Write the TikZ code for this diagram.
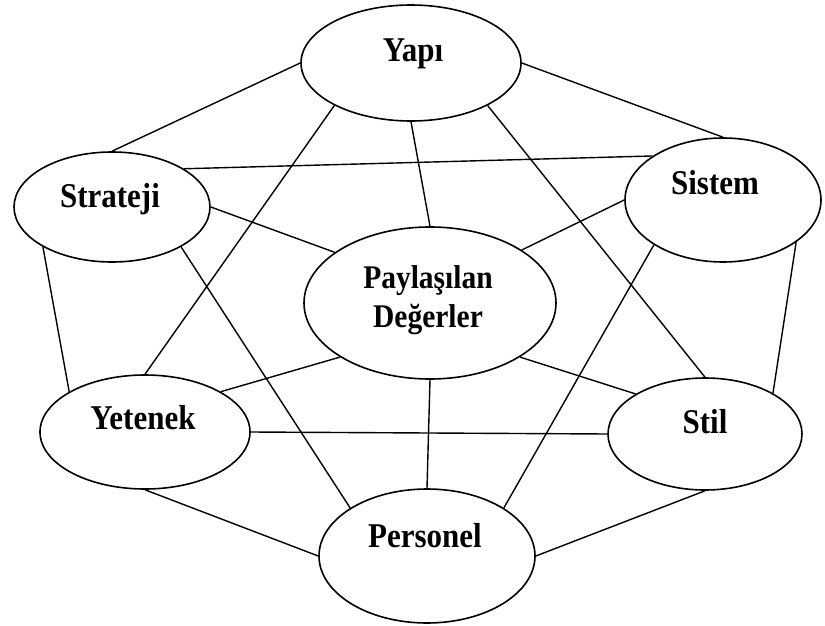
\documentclass[tikz,border=0pt]{standalone}
\usepackage{fontspec}
\setmainfont{Liberation Serif}
\usepackage{graphicx}
\usepackage{tikz}
\usetikzlibrary{shapes.geometric}

% slightly tall letters, as in the scanned figure
\newcommand{\tallword}[1]{\scalebox{1}[1.12]{#1}}

\begin{document}
\begin{tikzpicture}[x=1pt, y=-1pt,
    oval/.style={draw, ellipse, line width=1.6pt, fill=white, inner sep=0pt},
    word/.style={anchor=base, font=\fontsize{31}{37}\selectfont\bfseries},
    link/.style={line width=1.4pt}]
  \useasboundingbox (0,0) rectangle (825,626);

  % Ellipses
  \node[oval, minimum width=220pt, minimum height=116pt] (yapi) at (411,63) {};
  \node[oval, minimum width=196pt, minimum height=110pt] (strateji) at (112,207) {};
  \node[oval, minimum width=196pt, minimum height=124pt] (sistem) at (723,200) {};
  \node[oval, minimum width=252pt, minimum height=152pt] (paylasilan) at (430,303) {};
  \node[oval, minimum width=210pt, minimum height=114pt] (yetenek) at (145,432) {};
  \node[oval, minimum width=194pt, minimum height=112pt] (stil) at (705,434) {};
  \node[oval, minimum width=216pt, minimum height=134pt] (personel) at (427,556) {};

  % Labels
  \node[word] (yapi-t) at (413,62) {\tallword{Yapı}};
  \node[word] (strateji-t) at (110,207) {\tallword{Strateji}};
  \node[word] (sistem-t) at (715,194) {\tallword{Sistem}};
  \node[word, font=\fontsize{29.5}{39}\selectfont\bfseries, align=center] (paylasilan-t) at (428,327)
    {\tallword{Paylaşılan}\\\tallword{Değerler}};
  \node[word] (yetenek-t) at (143,429) {\tallword{Yetenek}};
  \node[word] (stil-t) at (705,433) {\tallword{Stil}};
  \node[word] (personel-t) at (425,547) {\tallword{Personel}};

  % Links
  \draw[link] (yapi.west) -- (strateji.north);
  \draw[link] (yapi.east) -- (sistem.north);
  \draw[link] (yapi.south) -- (paylasilan.north);
  \draw[link] (yapi.209) -- (yetenek.north);
  \draw[link] (yapi.331) -- (stil.north);
  \draw[link] (strateji.28) -- (sistem.148);
  \draw[link] (strateji.east) -- (paylasilan.152);
  \draw[link] (strateji.210) -- (yetenek.152);
  \draw[link] (strateji.330) -- (personel.148);
  \draw[link] (sistem.west) -- (paylasilan.30);
  \draw[link] (sistem.330) -- (stil.31);
  \draw[link] (sistem.213) -- (personel.32);
  \draw[link] (paylasilan.211) -- (yetenek.28);
  \draw[link] (paylasilan.329) -- (stil.150);
  \draw[link] (paylasilan.south) -- (personel.north);
  \draw[link] (yetenek.east) -- (stil.west);
  \draw[link] (yetenek.south) -- (personel.west);
  \draw[link] (stil.south) -- (personel.east);
\end{tikzpicture}
\end{document}
